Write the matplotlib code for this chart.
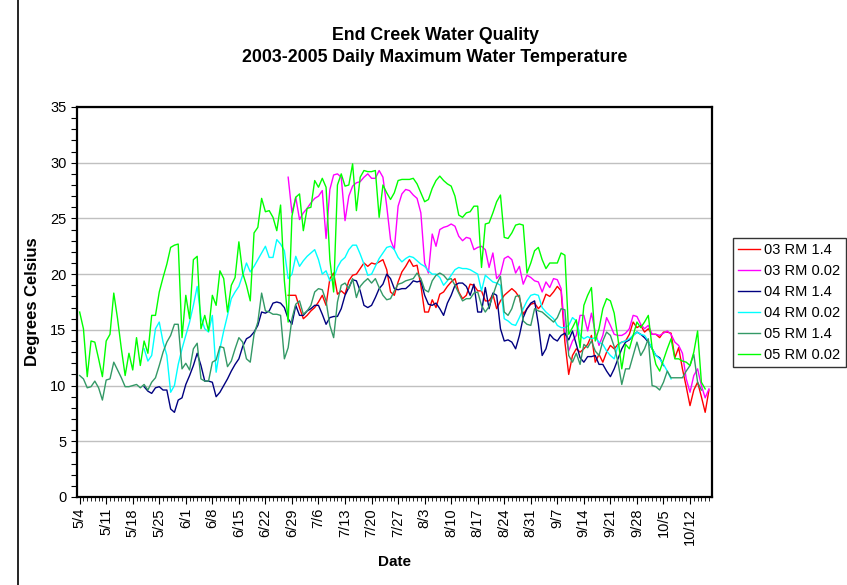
import matplotlib
matplotlib.use("Agg")
import matplotlib.pyplot as plt
from matplotlib.lines import Line2D
from matplotlib.ticker import MultipleLocator
import numpy as np
import pandas as pd

plt.rcParams['font.family'] = ['Liberation Sans', 'DejaVu Sans']

# x axis: daily, 5/4 .. 10/17
dates = pd.date_range('2005-05-04', periods=167)
tick_days = list(range(0, 162, 7))
tick_labels = [f"{dates[d].month}/{dates[d].day}" for d in tick_days]

# series values (deg C), each with its first day index
rm14_03_start = 55
rm14_03 = [18.1, 18.1, 18.1, 17.0, 16.0, 16.3, 16.7, 17.0, 17.5, 18.1,
           17.2, 19.6, 20.1, 18.2, 18.5, 18.2, 19.4, 19.9, 20.0, 20.5,
           21.0, 20.7, 21.0, 20.9, 21.1, 21.3, 20.4, 18.4, 18.1, 19.3,
           20.2, 20.7, 21.3, 20.7, 20.8, 19.0, 16.6, 16.6, 17.7, 17.0,
           18.2, 18.4, 18.9, 19.3, 19.6, 18.4, 17.8, 18.1, 19.1, 19.0,
           18.5, 18.5, 17.6, 17.6, 18.2, 16.9, 17.6, 18.1, 18.4, 18.7,
           18.4, 17.9, 16.4, 16.9, 17.3, 17.4, 16.9, 17.3, 18.2, 18.0,
           18.4, 18.9, 18.5, 13.9, 11.0, 12.7, 13.3, 13.0, 13.3, 13.7,
           14.5, 12.1, 12.8, 12.1, 13.0, 13.6, 13.3, 13.7, 13.9, 14.0,
           14.6, 15.7, 15.2, 15.4, 14.8, 15.1, 14.6, 14.6, 14.3, 14.8,
           14.8, 14.7, 12.5, 13.4, 11.5, 9.9, 8.2, 9.6, 10.3, 9.0,
           7.6, 9.6]

rm002_03_start = 55
rm002_03 = [28.7, 25.5, 26.9, 24.9, 25.5, 25.9, 26.4, 26.8, 27.0, 27.5,
            23.2, 27.6, 28.9, 29.0, 28.7, 24.8, 27.0, 27.9, 28.2, 28.3,
            28.7, 29.0, 28.6, 28.6, 29.3, 28.7, 26.1, 23.1, 22.2, 26.1,
            27.2, 27.6, 27.5, 27.1, 26.8, 25.5, 21.0, 20.1, 23.6, 22.5,
            24.0, 24.2, 24.3, 24.5, 24.3, 23.4, 23.0, 23.3, 23.2, 22.2,
            22.4, 22.5, 22.2, 20.6, 21.9, 19.6, 20.0, 21.4, 21.6, 21.3,
            20.1, 20.7, 19.1, 19.9, 19.7, 19.4, 19.3, 18.4, 19.3, 18.8,
            19.6, 19.5, 18.7, 14.9, 13.1, 14.0, 14.5, 16.3, 16.3, 14.9,
            16.5, 14.8, 13.6, 14.5, 16.1, 15.4, 14.6, 14.5, 14.5, 14.7,
            15.1, 16.3, 16.2, 15.5, 15.1, 15.4, 14.6, 14.6, 14.5, 14.7,
            14.9, 14.6, 13.9, 13.6, 12.9, 10.6, 9.4, 10.9, 11.5, 10.0,
            8.9, 9.7]

rm14_04_start = 17
rm14_04 = [9.9, 9.5, 9.3, 9.8, 9.9, 9.6, 9.6, 7.9, 7.6, 8.7,
           8.9, 10.1, 10.9, 11.8, 12.9, 11.8, 10.4, 10.4, 10.3, 9.0,
           9.4, 10.0, 10.6, 11.3, 11.9, 12.4, 13.5, 14.2, 14.4, 14.8,
           15.4, 16.6, 16.5, 16.7, 17.4, 17.5, 17.4, 17.0, 16.0, 15.5,
           17.2, 16.3, 16.3, 16.7, 16.9, 17.2, 17.2, 16.4, 15.5, 16.1,
           16.2, 16.2, 16.9, 18.1, 18.8, 19.5, 19.4, 18.5, 17.2, 17.0,
           17.2, 17.9, 18.7, 19.1, 20.0, 19.6, 18.7, 18.6, 18.7, 18.7,
           19.0, 19.4, 19.3, 19.4, 18.1, 17.3, 17.2, 17.4, 16.9, 16.3,
           17.4, 18.1, 19.0, 19.2, 19.2, 18.9, 18.1, 19.1, 16.6, 16.6,
           18.8, 16.9, 18.3, 18.1, 15.1, 14.0, 14.1, 13.9, 13.3, 14.5,
           16.1, 16.9, 17.4, 17.6, 15.5, 12.7, 13.3, 14.6, 14.2, 14.0,
           14.5, 14.7, 14.1, 14.9, 13.7, 12.5, 12.1, 12.6, 12.6, 12.7,
           11.9, 11.9, 11.3, 10.8, 11.5, 12.4, 13.3, 13.9, 14.1, 14.5,
           14.8, 14.6, 14.3, 13.9, 13.3, 12.7, 12.5, 11.8]

rm002_04_start = 17
rm002_04 = [13.3, 12.2, 12.7, 15.1, 15.7, 13.9, 12.7, 9.4, 10.0, 11.9,
            13.3, 14.5, 15.7, 17.2, 18.9, 16.1, 15.1, 14.8, 16.3, 11.2,
            13.3, 14.9, 16.3, 17.8, 18.4, 18.9, 19.9, 21.0, 20.2, 20.7,
            21.3, 21.9, 22.5, 21.5, 21.5, 23.1, 22.7, 22.1, 19.6, 20.0,
            21.6, 20.7, 21.2, 21.6, 21.9, 22.2, 21.3, 20.0, 20.3, 19.4,
            19.6, 20.6, 21.2, 21.5, 22.2, 22.6, 22.6, 21.8, 20.9, 19.9,
            20.0, 20.7, 21.4, 21.9, 22.4, 22.5, 22.2, 21.5, 21.1, 21.4,
            21.6, 21.5, 21.2, 20.9, 20.7, 20.3, 20.0, 20.0, 19.7, 19.0,
            19.4, 19.9, 20.4, 20.6, 20.5, 20.5, 20.4, 20.2, 20.0, 18.5,
            19.9, 19.6, 19.3, 19.2, 19.0, 16.0, 15.8, 15.5, 15.4, 16.1,
            16.9, 17.6, 18.1, 18.2, 18.1, 17.0, 16.6, 16.3, 16.0, 15.4,
            15.2, 15.2, 15.4, 16.1, 15.8, 14.5, 14.2, 14.4, 14.2, 14.3,
            13.9, 13.7, 13.1, 12.7, 12.4, 13.6, 13.9, 14.0, 14.2, 14.5,
            14.8, 14.6, 14.5, 14.0, 13.3, 12.7, 12.4, 11.9, 11.3, 10.6]

rm14_05_start = 0
rm14_05 = [10.9, 10.6, 9.8, 9.9, 10.4, 9.8, 8.7, 10.5, 10.6, 12.1,
           11.4, 10.7, 9.9, 9.9, 10.0, 10.1, 9.8, 10.1, 9.6, 10.3,
           10.7, 11.8, 13.0, 13.9, 14.5, 15.5, 15.5, 11.5, 12.0, 11.4,
           13.3, 13.8, 10.6, 10.4, 10.4, 12.1, 12.3, 13.5, 13.4, 11.7,
           12.2, 13.3, 14.3, 13.9, 12.4, 12.1, 14.6, 15.7, 18.3, 16.7,
           16.6, 16.4, 16.4, 16.3, 12.4, 13.4, 16.0, 17.3, 17.6, 16.4,
           16.7, 17.2, 18.4, 18.7, 18.6, 17.6, 15.4, 14.3, 17.5, 19.0,
           19.2, 18.7, 19.6, 17.9, 18.9, 19.3, 19.6, 19.2, 19.6, 18.8,
           18.1, 17.7, 17.8, 18.5, 19.1, 19.2, 19.4, 19.5, 19.6, 20.1,
           19.6, 18.6, 18.4, 19.4, 19.9, 20.1, 19.9, 19.5, 19.6, 19.0,
           18.3, 17.6, 17.8, 17.8, 18.3, 18.4, 17.2, 16.6, 17.1, 18.1,
           19.1, 19.8, 16.6, 16.3, 16.9, 18.0, 18.1, 15.8, 15.5, 15.4,
           16.9, 16.7, 16.6, 16.3, 16.0, 15.7, 16.1, 16.9, 16.8, 12.7,
           12.1, 12.9, 11.9, 13.7, 13.4, 14.0, 13.1, 12.7, 14.0, 14.8,
           14.5, 13.5, 12.1, 10.1, 11.5, 11.5, 12.7, 13.9, 12.7, 13.3,
           14.2, 10.0, 9.9, 9.6, 10.3, 11.3, 10.7, 10.7, 10.7, 10.7,
           11.3, 11.8, 12.8, 10.3, 9.6]

rm002_05_start = 0
rm002_05 = [16.6, 15.1, 10.8, 14.0, 13.9, 12.4, 10.8, 14.0, 14.6, 18.3,
            16.0, 13.3, 10.9, 12.9, 11.4, 14.3, 11.8, 14.0, 12.9, 16.3,
            16.3, 18.4, 19.7, 20.9, 22.4, 22.6, 22.7, 14.3, 18.1, 16.0,
            21.3, 21.6, 15.1, 16.3, 14.9, 18.1, 17.2, 20.3, 19.6, 16.6,
            19.0, 19.7, 22.9, 20.1, 19.0, 17.6, 23.7, 24.2, 26.8, 25.6,
            25.7, 25.1, 23.9, 26.2, 19.4, 15.7, 25.2, 26.9, 27.2, 23.9,
            25.9, 26.0, 28.4, 27.8, 28.6, 27.8, 21.3, 18.4, 28.0, 29.0,
            27.9, 28.0, 29.9, 25.7, 28.7, 29.3, 29.2, 29.2, 29.3, 25.1,
            28.0, 27.3, 26.7, 27.3, 28.4, 28.5, 28.5, 28.5, 28.6, 28.1,
            27.3, 26.5, 26.7, 27.7, 28.4, 28.8, 28.4, 28.1, 27.9, 27.0,
            25.3, 25.1, 25.5, 25.6, 26.1, 26.1, 20.6, 24.5, 24.6, 25.5,
            26.5, 27.1, 23.3, 23.2, 23.7, 24.4, 24.5, 24.4, 20.1, 21.0,
            22.1, 22.4, 21.3, 20.5, 21.0, 21.0, 21.0, 21.9, 21.7, 14.6,
            15.2, 15.9, 13.4, 17.2, 18.1, 18.8, 14.0, 15.1, 16.9, 17.8,
            17.6, 16.5, 14.2, 11.5, 13.7, 13.3, 14.5, 15.7, 15.2, 15.7,
            16.3, 13.4, 11.9, 11.3, 12.3, 13.3, 14.2, 12.4, 12.4, 12.2,
            12.1, 11.8, 13.0, 14.9, 10.3, 9.7]

series = [
    ("03 RM 1.4", rm14_03_start, rm14_03, "#FF0000"),
    ("03 RM 0.02", rm002_03_start, rm002_03, "#FF00FF"),
    ("04 RM 1.4", rm14_04_start, rm14_04, "#000080"),
    ("04 RM 0.02", rm002_04_start, rm002_04, "#00FFFF"),
    ("05 RM 1.4", rm14_05_start, rm14_05, "#339966"),
    ("05 RM 0.02", rm002_05_start, rm002_05, "#00FF00"),
]

fig = plt.figure(figsize=(8.47, 5.85), dpi=100)
ax = fig.add_axes([77 / 847, 1 - 497 / 585, (712 - 77) / 847, (497 - 107) / 585])

for label, start, vals, color in series:
    x = np.arange(start, start + len(vals))
    ax.plot(x, vals, color=color, lw=1.0, label=label)

ax.set_xlim(-0.7, 166.8)
ax.set_ylim(0, 35)
ax.set_yticks(range(0, 36, 5))
ax.yaxis.set_minor_locator(MultipleLocator(1))
ax.set_xticks(tick_days)
ax.set_xticklabels(tick_labels, rotation=90, fontsize=10.5)
ax.xaxis.set_minor_locator(MultipleLocator(1))
ax.tick_params(axis='y', which='both', labelsize=10.5, direction='out', length=4, width=0.8)
ax.tick_params(axis='x', which='major', direction='out', length=5, width=0.8, pad=3)
ax.tick_params(axis='x', which='minor', direction='out', length=3, width=0.6)
ax.grid(axis='y', color='#c0c0c0', lw=1.0)
ax.set_axisbelow(True)
for sp in ax.spines.values():
    sp.set_linewidth(1.6)
    sp.set_color('black')

fig.text(435 / 847, 1 - 36 / 585, "End Creek Water Quality", ha='center', va='center',
         fontsize=12.8, fontweight='bold')
fig.text(435 / 847, 1 - 57 / 585, "2003-2005 Daily Maximum Water Temperature", ha='center',
         va='center', fontsize=12.8, fontweight='bold')
fig.text(33 / 847, 1 - 302 / 585, "Degrees Celsius", rotation=90, ha='center', va='center',
         fontsize=12, fontweight='bold')
fig.text(394 / 847, 1 - 562 / 585, "Date", ha='center', va='center',
         fontsize=11, fontweight='bold')

leg = fig.legend(loc='upper left', bbox_to_anchor=(733 / 847, 1 - 238 / 585),
                 fontsize=10.5, frameon=True, fancybox=False, handlelength=1.5,
                 handletextpad=0.3, labelspacing=0.48, borderpad=0.35, borderaxespad=0)
leg.get_frame().set_edgecolor('black')
leg.get_frame().set_linewidth(1.0)

# chart area border on the left
fig.add_artist(Line2D([18 / 847, 18 / 847], [0, 1], color='black', lw=1.2,
                      transform=fig.transFigure))

fig.savefig('out.png', dpi=100)
